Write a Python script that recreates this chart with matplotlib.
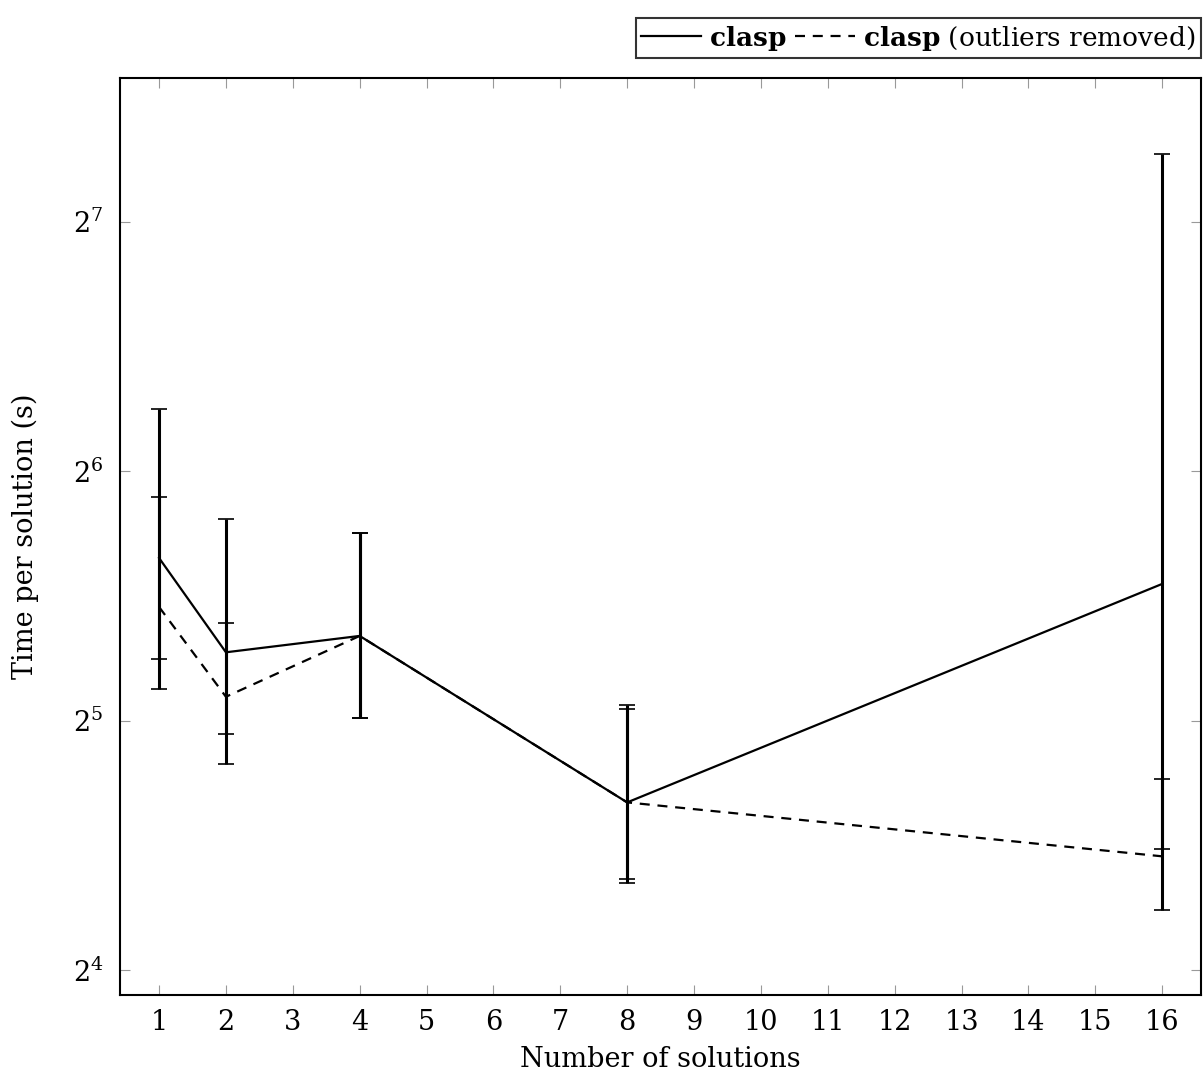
import matplotlib
matplotlib.use("Agg")
import matplotlib.pyplot as plt

# number of solutions requested
n_solutions = [1, 2, 4, 8, 16]

# clasp: mean time per solution and error bar ends (s)
clasp_mean = [50.3, 38.7, 40.5, 25.5, 46.8]
clasp_low = [34.9, 28.4, 32.2, 20.4, 22.4]
clasp_high = [76.2, 56.0, 53.9, 33.4, 154.6]

# clasp with outliers removed
clean_mean = [43.9, 34.2, 40.5, 25.5, 21.95]
clean_low = [38.0, 30.8, 32.2, 20.6, 18.9]
clean_high = [59.6, 42.0, 53.9, 33.1, 27.2]

x_ticks = list(range(1, 17))
y_ticks = [16, 32, 64, 128]
y_labels = [r"$2^{4}$", r"$2^{5}$", r"$2^{6}$", r"$2^{7}$"]

plt.rcParams["font.family"] = ["DejaVu Serif"]
plt.rcParams["mathtext.fontset"] = "dejavuserif"
plt.rcParams["font.size"] = 19

fig = plt.figure(figsize=(12.03, 10.77), dpi=100)
ax = fig.add_axes([0.0998, 0.0761, 0.8985, 0.8515])


def draw(mean, low, high, ls, label):
    yerr = [[m - l for m, l in zip(mean, low)],
            [h - m for m, h in zip(mean, high)]]
    ax.errorbar(n_solutions, mean, yerr=yerr, fmt="none", ecolor="black",
                elinewidth=2.2, capsize=6, capthick=1.2)
    line, = ax.plot(n_solutions, mean, color="black", lw=1.6, ls=ls, label=label)
    return line


l1 = draw(clasp_mean, clasp_low, clasp_high, "-", r"$\mathbf{clasp}$")
l2 = draw(clean_mean, clean_low, clean_high, (0, (4.5, 3.5)),
          r"$\mathbf{clasp}$ (outliers removed)")

ax.set_yscale("log", base=2)
ax.set_yticks(y_ticks)
ax.set_yticklabels(y_labels)
ax.yaxis.set_minor_locator(matplotlib.ticker.NullLocator())
ax.set_xticks(x_ticks)
ax.set_xlim(0.417, 16.58)
ax.set_ylim(2 ** 3.9, 2 ** 7.577)

ax.tick_params(which="both", direction="in", top=True, right=True,
               length=7, width=0.8, color="#999999", labelsize=19.5)
ax.tick_params(axis="x", pad=10)
ax.tick_params(axis="y", pad=12)
for s in ax.spines.values():
    s.set_linewidth(1.5)

ax.set_xlabel("Number of solutions", fontsize=19.5, labelpad=7)
ax.set_ylabel("Time per solution (s)", fontsize=19.5, labelpad=24)

leg = ax.legend(handles=[l1, l2], loc="lower right", bbox_to_anchor=(1.0, 1.022),
                ncol=2, fontsize=19, frameon=True, fancybox=False,
                handlelength=2.3, handletextpad=0.3, columnspacing=0.3,
                borderpad=0.2, borderaxespad=0.0)
leg.get_frame().set_edgecolor("black")
leg.get_frame().set_linewidth(1.5)

fig.savefig("out.png", dpi=100)
